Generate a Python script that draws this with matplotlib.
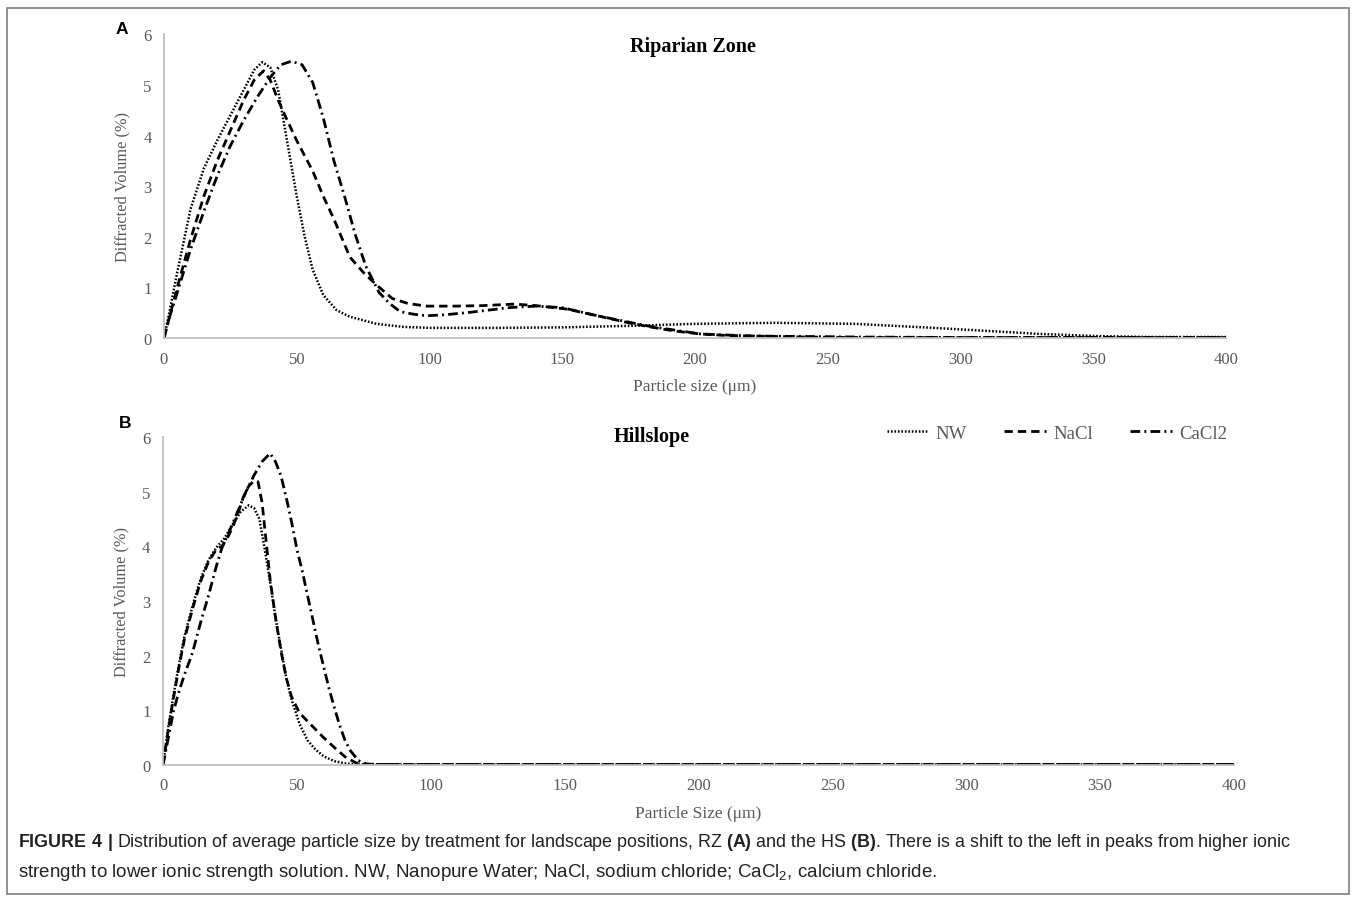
import matplotlib
matplotlib.use("Agg")
import matplotlib.pyplot as plt
from matplotlib import font_manager
from matplotlib.patches import Rectangle


def first_font(names):
    for n in names:
        try:
            font_manager.findfont(n, fallback_to_default=False)
            return n
        except Exception:
            continue
    return "DejaVu Sans"


SERIF = first_font(["Liberation Serif", "DejaVu Serif"])
SANS = first_font(["Liberation Sans", "DejaVu Sans"])
NARROW = first_font(["Liberation Sans Narrow", "Liberation Sans", "DejaVu Sans"])

plt.rcParams["mathtext.fontset"] = "custom"
plt.rcParams["mathtext.rm"] = NARROW
plt.rcParams["mathtext.bf"] = NARROW + ":bold"
plt.rcParams["lines.scale_dashes"] = False

# ---- Riparian Zone (A) ----
rz_nw_x = [0, 2, 5, 10, 15, 20, 25, 30, 34, 37, 40, 43, 46, 50, 53, 56, 60, 65, 70, 80, 90,
           100, 125, 150, 175, 200, 230, 260, 290, 310, 330, 350, 370, 400]
rz_nw_y = [0, 0.5, 1.3, 2.55, 3.35, 3.9, 4.4, 4.9, 5.3, 5.45, 5.35, 4.9, 4.0, 2.8, 2.0, 1.35,
           0.85, 0.55, 0.42, 0.28, 0.22, 0.2, 0.2, 0.21, 0.24, 0.28, 0.3, 0.28, 0.2, 0.14,
           0.08, 0.04, 0.02, 0.02]

rz_nacl_x = [0, 2, 5, 10, 15, 20, 25, 30, 34, 37.5, 40, 43, 46, 50, 56, 60, 64, 70, 75, 80, 86,
             92, 99, 110, 120, 132, 140, 152, 164, 175, 183, 192, 202, 212, 221, 240, 260, 300,
             350, 400]
rz_nacl_y = [0, 0.4, 1.0, 1.95, 2.8, 3.5, 4.1, 4.7, 5.1, 5.28, 5.1, 4.7, 4.35, 3.9, 3.3, 2.8,
             2.35, 1.6, 1.3, 1.05, 0.78, 0.68, 0.63, 0.63, 0.64, 0.67, 0.64, 0.57, 0.43, 0.3,
             0.22, 0.14, 0.08, 0.05, 0.04, 0.02, 0.01, 0.01, 0.01, 0.01]

rz_cacl2_x = [0, 2, 5, 10, 15, 20, 25, 30, 35, 40, 44, 48, 52, 56, 60, 64, 68, 72, 76, 81, 85,
              89, 94, 99, 106, 114, 122, 130, 140, 150, 164, 183, 202, 221, 260, 300, 350, 400]
rz_cacl2_y = [0, 0.4, 0.9, 1.75, 2.5, 3.2, 3.8, 4.3, 4.75, 5.15, 5.4, 5.47, 5.4, 5.05, 4.35,
              3.5, 2.8, 2.05, 1.42, 0.9, 0.68, 0.52, 0.47, 0.44, 0.46, 0.5, 0.55, 0.6, 0.63,
              0.6, 0.43, 0.23, 0.08, 0.04, 0.02, 0.01, 0.01, 0.01]

# ---- Hillslope (B) ----
hs_nw_x = [0, 2, 4, 6, 8, 11, 14, 17, 20, 23, 26, 29, 32, 34, 36, 38, 40, 42, 44, 46, 48, 51,
           54, 57, 60, 64, 68, 72, 76, 80, 100, 150, 200, 250, 300, 350, 400]
hs_nw_y = [0, 0.7, 1.3, 1.85, 2.35, 2.9, 3.4, 3.75, 3.98, 4.15, 4.4, 4.63, 4.75, 4.7, 4.5,
           3.95, 3.35, 2.7, 2.15, 1.6, 1.2, 0.75, 0.45, 0.28, 0.16, 0.07, 0.03, 0.01, 0.01,
           0.01, 0.01, 0.01, 0.01, 0.01, 0.01, 0.01, 0.01]

hs_nacl_x = [0, 2, 4, 6, 8, 11, 14, 17, 20, 22, 24, 26, 28, 30, 32, 34, 35.5, 37, 38.5, 40, 42,
             44, 46, 48, 51, 54, 57, 60, 64, 68, 72, 76, 80, 100, 150, 200, 250, 300, 350, 400]
hs_nacl_y = [0, 0.65, 1.25, 1.8, 2.3, 2.85, 3.35, 3.72, 3.95, 4.0, 4.15, 4.35, 4.6, 4.9, 5.1,
             5.2, 5.18, 4.8, 4.1, 3.4, 2.7, 2.1, 1.6, 1.25, 0.95, 0.8, 0.65, 0.5, 0.32, 0.15,
             0.04, 0.01, 0.01, 0.01, 0.01, 0.01, 0.01, 0.01, 0.01, 0.01]

hs_cacl2_x = [0, 2, 4, 6, 8, 11, 14, 17, 20, 22, 25, 28, 31, 34, 37, 40, 42, 44, 46, 48, 50,
              52, 54, 56, 58, 60, 62, 64, 66, 68, 70, 73, 76, 80, 100, 150, 200, 250, 300,
              350, 400]
hs_cacl2_y = [0, 0.5, 1.0, 1.35, 1.65, 2.05, 2.6, 3.1, 3.65, 3.97, 4.3, 4.65, 5.0, 5.3, 5.55,
              5.7, 5.55, 5.3, 4.9, 4.45, 3.95, 3.55, 3.1, 2.65, 2.2, 1.8, 1.4, 1.05, 0.72,
              0.45, 0.26, 0.08, 0.02, 0.01, 0.01, 0.01, 0.01, 0.01, 0.01, 0.01, 0.01]

series_labels = ["NW", "NaCl", "CaCl2"]
x_ticks = [0, 50, 100, 150, 200, 250, 300, 350, 400]
y_ticks = [0, 1, 2, 3, 4, 5, 6]

styles = [(0, (1.2, 1.3)), (0, (6, 3.6)), (0, (7, 3, 1.4, 3))]
widths = [1.8, 2.0, 2.0]

fig = plt.figure(figsize=(13.57, 9.03), dpi=100)

# outer frame of the figure
fig.patches.append(Rectangle((7 / 1357, 1 - 895 / 903), 1342 / 1357, 886 / 903,
                             transform=fig.transFigure, fill=False,
                             edgecolor="#7f7f7f", linewidth=1.2))

axA = fig.add_axes([164 / 1357, 1 - 339 / 903, (1226 - 164) / 1357, (339 - 35.4) / 903])
axB = fig.add_axes([163 / 1357, 1 - 766 / 903, (1234 - 163) / 1357, (766 - 438) / 903])

panels = [
    (axA, [(rz_nw_x, rz_nw_y), (rz_nacl_x, rz_nacl_y), (rz_cacl2_x, rz_cacl2_y)],
     "Particle size (\u03bcm)"),
    (axB, [(hs_nw_x, hs_nw_y), (hs_nacl_x, hs_nacl_y), (hs_cacl2_x, hs_cacl2_y)],
     "Particle Size (\u03bcm)"),
]

tick_color = "#595959"
for ax, data, xlabel in panels:
    for (xs, ys), ls, lw, lab in zip(data, styles, widths, series_labels):
        ax.plot(xs, ys, color="black", linestyle=ls, linewidth=lw, label=lab,
                solid_capstyle="butt", dash_capstyle="butt")
    ax.set_xlim(0, 400)
    ax.set_ylim(0, 6)
    ax.set_xticks(x_ticks)
    ax.set_yticks(y_ticks)
    for s in ["top", "right"]:
        ax.spines[s].set_visible(False)
    for s in ["left", "bottom"]:
        ax.spines[s].set_color("#bfbfbf")
        ax.spines[s].set_linewidth(1.3)
    ax.tick_params(length=0, labelsize=12, labelcolor=tick_color, pad=9)
    for t in ax.get_xticklabels() + ax.get_yticklabels():
        t.set_fontfamily(SERIF)
    ax.set_xlabel(xlabel, fontsize=12.5, color=tick_color, family=SERIF, labelpad=8)
    ax.set_ylabel("Diffracted Volume (%)", fontsize=11.8, color=tick_color, family=SERIF,
                  labelpad=9)
    ax.patch.set_alpha(0)

fig.text(693 / 1357, 1 - 47 / 903, "Riparian Zone", ha="center", va="center",
         fontsize=14.5, fontweight="bold", family=SERIF)
fig.text(652 / 1357, 1 - 437 / 903, "Hillslope", ha="center", va="center",
         fontsize=14.5, fontweight="bold", family=SERIF)

fig.text(122 / 1357, 1 - 29 / 903, "A", ha="center", va="center", fontsize=12.5,
         fontweight="bold", family=SANS)
fig.text(125 / 1357, 1 - 424 / 903, "B", ha="center", va="center", fontsize=12.5,
         fontweight="bold", family=SANS)

leg = axB.legend(ncol=3, loc="center", bbox_to_anchor=(1057 / 1357, 1 - 434 / 903),
                 bbox_transform=fig.transFigure, frameon=False, handlelength=2.2,
                 columnspacing=2.0, handletextpad=0.4,
                 prop={"family": SERIF, "size": 13.5})
for t in leg.get_texts():
    t.set_color(tick_color)

line1 = (r"$\mathbf{FIGURE\ 4\ |}$ Distribution of average particle size by treatment for "
         r"landscape positions, RZ $\mathbf{(A)}$ and the HS $\mathbf{(B)}$. There is a shift "
         r"to the left in peaks from higher ionic")
line2 = (r"strength to lower ionic strength solution. NW, Nanopure Water; NaCl, sodium chloride; "
         r"CaCl$_{2}$, calcium chloride.")
fig.text(18 / 1357, 1 - 843 / 903, line1, ha="left", va="center", fontsize=12.9,
         family=NARROW, color="#222222")
fig.text(18 / 1357, 1 - 873 / 903, line2, ha="left", va="center", fontsize=13.5,
         family=NARROW, color="#222222")

fig.savefig("out.png", dpi=100)
